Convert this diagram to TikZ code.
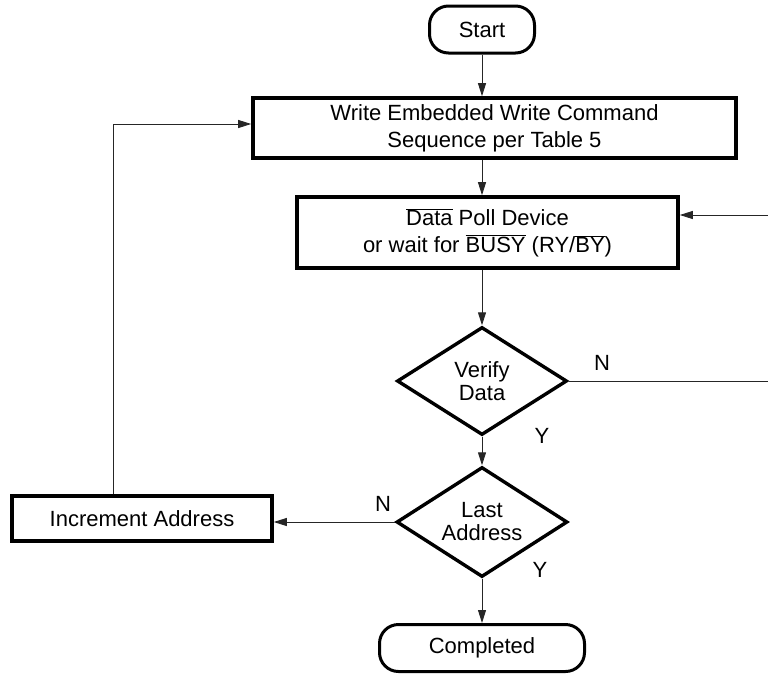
\documentclass[tikz,border=0pt]{standalone}
\usepackage{fontspec}
\setmainfont{Liberation Sans}
\usetikzlibrary{shapes.geometric,arrows.meta}
\newcommand{\negsig}[1]{$\overline{\mbox{#1}}$}
\tikzset{
  procbox/.style={draw,line width=3.6pt,align=center,inner sep=0pt},
  termbox/.style={draw,line width=3pt,rounded corners=19pt,inner sep=0pt},
  testbox/.style={draw,diamond,aspect=1.55,line width=3.4pt,align=center,inner sep=0pt,font=\fontsize{22}{23}\selectfont},
  flow/.style={black!85,line width=0.9pt,-{Triangle[length=13pt,width=8pt]}},
  plain/.style={black!85,line width=0.9pt},
  yesno/.style={font=\fontsize{22}{24}\selectfont}
}
\begin{document}
\begin{tikzpicture}[x=1pt,y=-1pt,font=\fontsize{22}{27}\selectfont]
\useasboundingbox (0,0) rectangle (768,673);
\node[termbox,minimum width=105pt,minimum height=47pt] (start) at (482,29.5) {Start};
\node[procbox,minimum width=483pt,minimum height=60pt] (write) at (494.5,128) {Write Embedded Write Command\\Sequence per Table 5};
\node[procbox,minimum width=381pt,minimum height=71pt] (poll) at (487.5,232.5) {\negsig{Data} Poll Device\\or wait for \negsig{BUSY} (RY/\negsig{BY})};
\node[testbox,minimum width=170pt,minimum height=108pt] (verify) at (482,381) {Verify\\Data};
\node[testbox,minimum width=171pt,minimum height=110pt] (last) at (482,522) {Last\\Address};
\node[procbox,minimum width=260pt,minimum height=45pt] (incr) at (142,518.5) {Increment Address};
\node[termbox,minimum width=205pt,minimum height=47pt] (done) at (482,648) {Completed};
\coordinate (edgehi) at (768,215);
\coordinate (edgelo) at (768,381);
\draw[flow] (start) -- (start |- write.north);
\draw[flow] (write.south -| start) -- (start |- poll.north);
\draw[flow] (poll.south -| start) -- (verify.north);
\draw[flow] (verify.south) -- (last.north);
\draw[flow] (last.south) -- (done.north);
\draw[plain] (verify.east) -- (edgelo);
\draw[flow] (edgehi) -- (edgehi -| poll.east);
\draw[flow] (last.west) -- (last.west -| incr.east);
\draw[flow] ([xshift=-29pt]incr.north) |- ([yshift=4pt]write.west);
\node[yesno] (vn) at (602,363) {N};
\node[yesno] (vy) at (542,436) {Y};
\node[yesno] (ln) at (383,504) {N};
\node[yesno] (ly) at (540,570) {Y};
\end{tikzpicture}
\end{document}
